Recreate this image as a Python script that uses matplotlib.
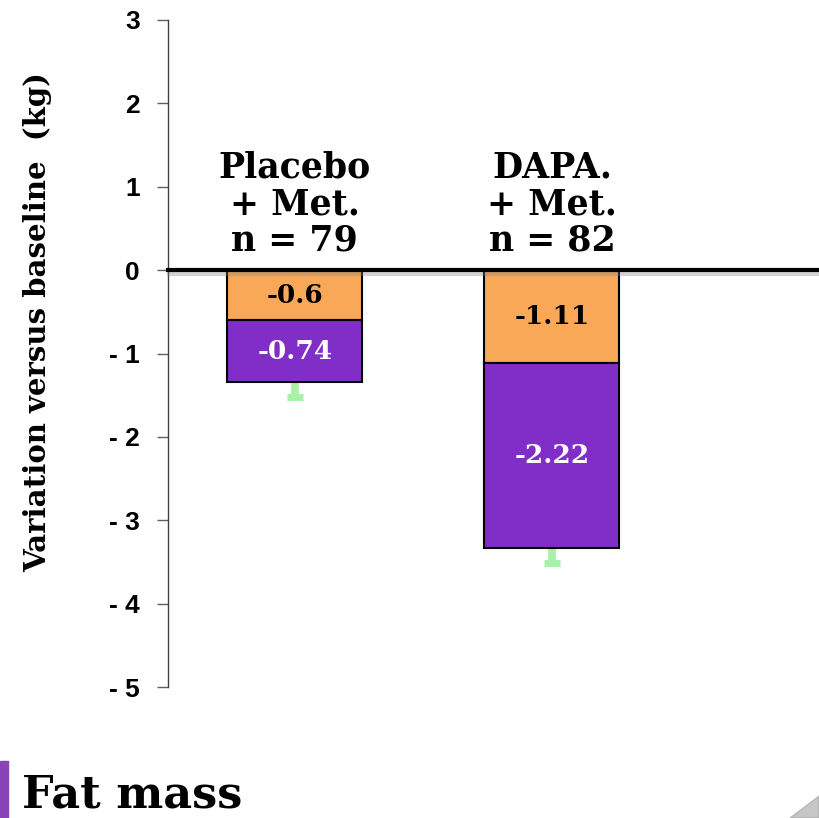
import numpy as np
import matplotlib.pyplot as plt
import matplotlib.patheffects as pe
from matplotlib.patches import Rectangle, Polygon

# Values (kg change from baseline)
groups = ["Placebo\n+ Met.\nn = 79", "DAPA.\n+ Met.\nn = 82"]
lean_part = [-0.6, -1.11]      # orange, upper segment
fat_part = [-0.74, -2.22]      # purple, lower segment
err_down = [0.18, 0.18]
yticks = [3, 2, 1, 0, -1, -2, -3, -4, -5]
ytick_labels = ["3", "2", "1", "0", "- 1", "- 2", "- 3", "- 4", "- 5"]

orange = "#F9A857"
purple = "#812EC8"
green = "#A8F2A8"
serif = "DejaVu Serif"

fig = plt.figure(figsize=(8.19, 8.18), dpi=100)
ax = fig.add_axes([0.205, 0.160, 0.795, 0.8156])

x = np.arange(len(groups))
w = 0.525
ax.bar(x, lean_part, width=w, color=orange, edgecolor="black", linewidth=1.5, zorder=2)
ax.bar(x, fat_part, width=w, bottom=lean_part, color=purple, edgecolor="black",
       linewidth=1.5, zorder=2)

# one-sided error bars below the stacks (stem + cap)
totals = np.array(lean_part) + np.array(fat_part)
lows = totals - np.array(err_down)
ax.vlines(x, totals, lows, color=green, lw=5.5, zorder=1)
ax.hlines(lows, x - 0.03, x + 0.03, color=green, lw=5, zorder=1)

# segment labels
for i in range(len(groups)):
    ax.text(x[i], lean_part[i] / 2, f"{lean_part[i]:g}", ha="center", va="center",
            fontsize=19, fontweight="bold", family=serif, color="black", zorder=3)
    ax.text(x[i], lean_part[i] + fat_part[i] / 2, f"{fat_part[i]:g}", ha="center",
            va="center", fontsize=19, fontweight="bold", family=serif, color="white",
            zorder=3)
    ax.text(x[i], 0.23, groups[i], ha="center", va="baseline", fontsize=25,
            fontweight="bold", family=serif, linespacing=1.1, zorder=3)

# thick zero line with a soft shadow
ax.axhline(0, color="black", lw=3, zorder=4, clip_on=False,
           path_effects=[pe.SimpleLineShadow(offset=(1, -2.5), shadow_color="gray", alpha=0.35),
                         pe.Normal()])

ax.set_xlim(-0.494, 2.039)
ax.set_ylim(-5, 3)
ax.set_yticks(yticks)
ax.set_yticklabels(ytick_labels, fontsize=19, fontweight="bold", family="Liberation Sans")
ax.tick_params(axis="y", length=8, width=1, color="#606060", pad=12)
ax.tick_params(axis="x", length=0, labelbottom=False)
for s in ["top", "right", "bottom"]:
    ax.spines[s].set_visible(False)
ax.spines["left"].set_color("#404040")
ax.spines["left"].set_linewidth(1)

ax.set_ylabel("Variation versus baseline  (kg)", fontsize=21, fontweight="bold",
              family=serif)
ax.yaxis.set_label_coords((52 - 168) / 651, (687 - 322) / 667)

# slide title strip at the bottom
fig.patches.append(Rectangle((0, 0), 8 / 819, 57 / 818, transform=fig.transFigure,
                             color="#8844B4", zorder=5))
fig.text(22 / 819, 10 / 818, "Fat mass", fontsize=32, fontweight="bold", family=serif,
         ha="left", va="baseline")

# page-curl shadow in the corner
fig.patches.append(Polygon([(1, 0), (1, 22 / 818), (790 / 819, 0)], closed=True,
                           transform=fig.transFigure, color="#A0A0A0", alpha=0.6))

fig.savefig("out.png", dpi=100)
